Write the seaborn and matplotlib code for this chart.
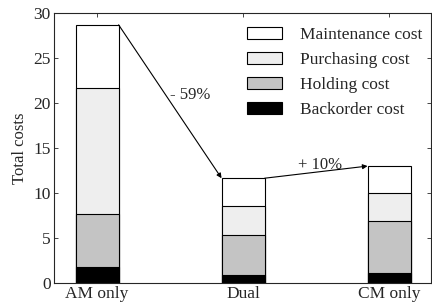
import numpy as np
import pandas as pd
import matplotlib
matplotlib.use("Agg")
import matplotlib.pyplot as plt
import seaborn as sns

# Data
strategies = ["AM only", "Dual", "CM only"]
backorder = [1.8, 0.85, 1.15]
holding = [5.9, 4.45, 5.8]
purchasing = [14.0, 3.3, 3.07]
maintenance = [7.0, 3.05, 2.98]

layers = ["Maintenance cost", "Purchasing cost", "Holding cost", "Backorder cost"]
colors = {"Maintenance cost": "#ffffff", "Purchasing cost": "#eeeeee",
          "Holding cost": "#c4c4c4", "Backorder cost": "#000000"}

df = pd.DataFrame({"Strategy": strategies, "Backorder cost": backorder,
                   "Holding cost": holding, "Purchasing cost": purchasing,
                   "Maintenance cost": maintenance})
# cumulative heights, drawn from the top layer down so the bars stack
df["cum_Backorder cost"] = df["Backorder cost"]
df["cum_Holding cost"] = df["cum_Backorder cost"] + df["Holding cost"]
df["cum_Purchasing cost"] = df["cum_Holding cost"] + df["Purchasing cost"]
df["cum_Maintenance cost"] = df["cum_Purchasing cost"] + df["Maintenance cost"]

sns.set_style("ticks")
plt.rcParams["font.family"] = ["Liberation Serif", "DejaVu Serif"]

fig = plt.figure(figsize=(4.32, 3.05), dpi=100)
ax = fig.add_axes([0.124, 0.072, 0.874, 0.885])

width = 0.295
for name in layers:
    sns.barplot(data=df, x="Strategy", y="cum_" + name, color=colors[name],
                edgecolor="black", linewidth=0.8, width=width, ax=ax,
                label=name, saturation=1)

ax.set_xlim(-0.298, 2.288)
ax.set_ylim(0, 30)
ax.set_yticks([0, 5, 10, 15, 20, 25, 30])
ax.set_xlabel("")
ax.set_ylabel("Total costs", fontsize=12, labelpad=4)
ax.tick_params(direction="in", length=3, width=0.6, labelsize=12.5,
               top=True, right=True, pad=2)
for s in ax.spines.values():
    s.set_linewidth(0.8)

# arrows between bar tops
totals = df["cum_Maintenance cost"].tolist()
half = width / 2
arrow_kw = dict(arrowstyle="-|>", lw=0.8, color="black", mutation_scale=7,
                shrinkA=0, shrinkB=0)
ax.annotate("", xy=(1 - half, totals[1]), xytext=(0 + half, totals[0]),
            arrowprops=arrow_kw)
ax.annotate("", xy=(2 - half, totals[2]), xytext=(1 + half, totals[1]),
            arrowprops=arrow_kw)
ax.text(0.50, 20.9, "- 59%", fontsize=12, ha="left", va="center")
ax.text(1.527, 13.15, "+ 10%", fontsize=12, ha="center", va="center")

ax.legend(loc="upper right", frameon=False, fontsize=12.5, handlelength=2.05,
          handleheight=0.7, handletextpad=1.0, labelspacing=0.52,
          bbox_to_anchor=(1.012, 1.0), borderaxespad=0.38)

fig.savefig("out.png", dpi=100)
